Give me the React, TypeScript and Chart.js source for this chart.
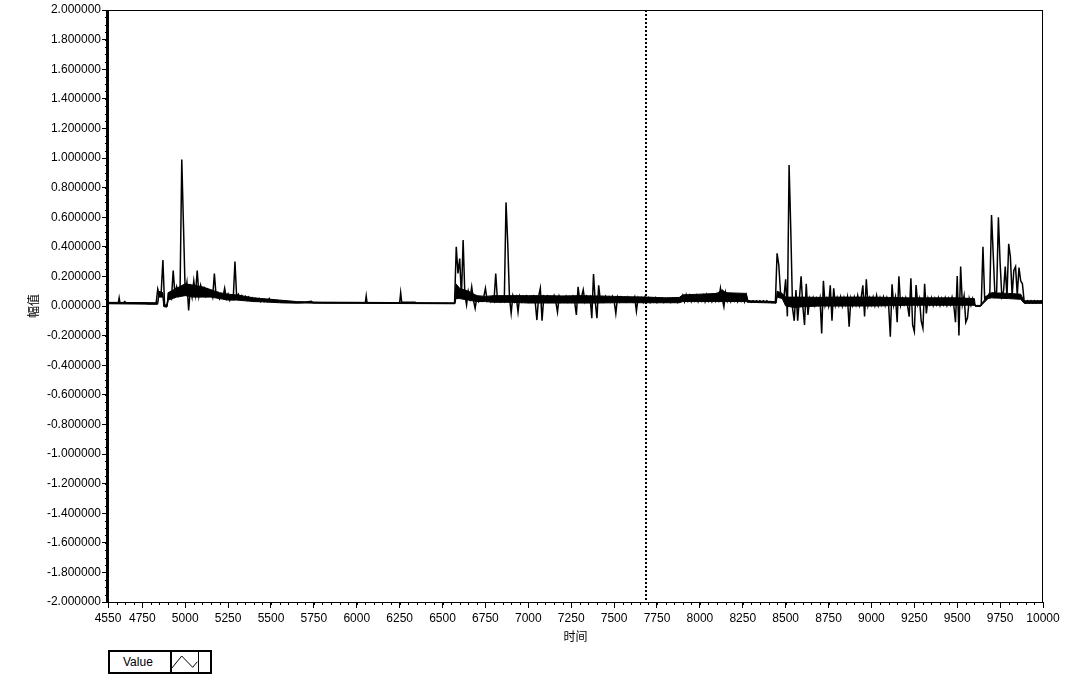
import React, { useEffect, useRef } from "react";
import { Chart, registerables } from "chart.js";

Chart.register(...registerables);

// ---- tick labels ----
const xTickValues = [4550, 4750, 5000, 5250, 5500, 5750, 6000, 6250, 6500, 6750, 7000, 7250, 7500, 7750, 8000, 8250, 8500, 8750, 9000, 9250, 9500, 9750, 10000];
const yTickValues = [-2, -1.8, -1.6, -1.4, -1.2, -1, -0.8, -0.6, -0.4, -0.2, 0, 0.2, 0.4, 0.6, 0.8, 1, 1.2, 1.4, 1.6, 1.8, 2];
const xTitle = "时间";
const yTitle = "幅值";
const seriesName = "Value";
const cursorX = 7686;

// ---- series values (time, amplitude) ----
const quietA: [number, number][] = [
  [4550, 0.02], [4600, 0.02], [4610, 0.02], [4615, 0.055], [4620, 0.02], [4640, 0.022],
  [4648, 0.03], [4655, 0.02], [4770, 0.02], [4780, 0.015], [4830, 0.015],
];
const SAMPLE_STEP = 10;
const noisy1Start = 4840;
const noisy1: number[] = [
  0.115, 0.07, 0.09, 0.31, 0.0, -0.005, 0.04, 0.07, 0.05, 0.24,
  0.08, 0.13, 0.07, 0.10, 0.99, 0.54, 0.09, 0.16, -0.03, 0.12,
  0.06, 0.17, 0.08, 0.24, 0.07, 0.14, 0.09, 0.12, 0.07, 0.11,
  0.08, 0.10, 0.06, 0.22, 0.07, 0.09, 0.05, 0.08, 0.06, 0.12,
  0.05, 0.08, 0.04, 0.07, 0.05, 0.30, 0.06, 0.08, 0.05, 0.07,
  0.045, 0.065, 0.04, 0.06, 0.04, 0.055, 0.035, 0.05, 0.035, 0.05,
  0.03, 0.045, 0.03, 0.04, 0.03, 0.05, 0.03, 0.04, 0.028, 0.035,
  0.028, 0.035, 0.025, 0.032, 0.025, 0.03, 0.025,
];
const quietB: [number, number][] = [
  [5610, 0.025], [5650, 0.022], [5700, 0.025], [5735, 0.032], [5745, 0.022], [6050, 0.022],
  [6055, 0.068], [6060, 0.022], [6250, 0.022], [6256, 0.09], [6262, 0.025], [6340, 0.025],
  [6350, 0.018], [6560, 0.018],
];
const noisy2Start = 6570;
const noisy2: number[] = [
  0.018, 0.40, 0.22, 0.32, 0.06, 0.445, 0.08, 0.007, 0.10, 0.05,
  0.13, 0.04, -0.015, 0.06, 0.03, 0.055, 0.035, 0.06, 0.12, 0.035,
  0.055, 0.03, 0.06, 0.035, 0.22, 0.04, 0.06, 0.03, 0.055, 0.035,
  0.70, 0.425, 0.06, -0.048, 0.07, 0.03, 0.06, -0.04, 0.065, 0.03,
  0.06, 0.035, 0.065, 0.03, 0.06, 0.035, 0.065, 0.03, -0.095, 0.065,
  0.12, -0.10, 0.06, 0.035, 0.065, 0.03, 0.06, 0.035, 0.07, 0.03,
  -0.04, 0.065, 0.03, 0.06, 0.035, 0.065, 0.03, 0.06, 0.035, 0.065,
  0.03, -0.06, 0.13, 0.035, 0.06, 0.11, 0.03, 0.065, 0.035, 0.06,
  -0.083, 0.216, 0.03, -0.083, 0.14, 0.035, 0.06, 0.03, 0.065, 0.035,
  0.06, 0.03, 0.065, 0.035, -0.05, 0.06, 0.03, 0.06, 0.035, 0.055,
  0.03, 0.06, 0.035, 0.055, 0.03, 0.06, -0.035, 0.055, 0.03, 0.055,
  0.025, 0.06, 0.03, 0.055, 0.025, 0.05, 0.03, 0.055, 0.025, 0.05,
  0.03, 0.05, 0.025, 0.05, 0.03, 0.05, 0.025, 0.05, 0.03, 0.045,
  0.025, 0.05, 0.035, 0.07, 0.03, 0.075, 0.035, 0.07, 0.03, 0.065,
  0.035, 0.07, 0.03, 0.065, 0.035, 0.07, 0.03, 0.075, 0.035, 0.065,
  0.03, 0.07, 0.035, 0.08, 0.04, 0.12, 0.05, -0.005, 0.09, 0.035,
  0.07, 0.03, 0.065, 0.035, 0.07, 0.03, 0.065, 0.035, 0.07, 0.03,
  0.075, 0.03, 0.035, 0.025, 0.035, 0.025, 0.035, 0.025, 0.035, 0.025,
  0.035, 0.025, 0.035, 0.025, 0.03, 0.022, 0.025, 0.022,
];
const noisy3Start = 8450;
const noisy3: number[] = [
  0.356, 0.277, 0.09, 0.07, 0.06, 0.18, -0.07, 0.953, 0.51, -0.015,
  -0.10, 0.108, -0.10, 0.05, 0.20, 0.0, -0.128, 0.15, -0.06, 0.05,
  0.01, 0.055, 0.005, 0.05, 0.01, 0.055, -0.185, 0.17, 0.005, 0.05,
  0.0, 0.14, -0.1, 0.12, 0.005, 0.055, 0.005, 0.06, 0.0, 0.055,
  0.01, 0.06, -0.14, 0.05, 0.005, 0.06, 0.01, 0.07, 0.005, 0.055,
  0.14, -0.07, 0.18, 0.005, 0.055, 0.01, 0.06, 0.005, 0.07, 0.005,
  0.055, 0.01, 0.06, 0.005, 0.055, 0.01, -0.207, 0.147, 0.005, 0.06,
  -0.11, 0.20, 0.005, 0.05, 0.01, 0.055, 0.005, -0.072, 0.187, -0.128,
  -0.173, 0.142, 0.01, 0.05, -0.1, -0.15, 0.15, -0.05, 0.05, 0.01,
  0.055, 0.005, 0.05, 0.01, 0.055, 0.005, 0.05, 0.01, 0.055, 0.005,
  0.05, 0.01, 0.06, 0.005, -0.11, 0.203, -0.2, 0.266, 0.01, 0.07,
  -0.11, -0.08, 0.05, 0.005, 0.05, 0.01, 0.0, 0.0, 0.0, 0.005,
  0.40, 0.05, 0.065, 0.07, 0.09, 0.615, 0.345, 0.07, 0.10, 0.60,
  0.29, 0.065, 0.10, 0.266, 0.06, 0.42, 0.33, 0.07, 0.24, 0.266,
  0.075, 0.26, 0.17, 0.15, 0.035, 0.02, 0.035, 0.02, 0.035, 0.02,
  0.035, 0.02, 0.035, 0.022, 0.035, 0.025,
];

// ---- dense-noise envelope (time, low, high) as the plot's min/max band ----
const envelope: [number, number, number][] = [
  [4550, 0.015, 0.025], [4840, 0.012, 0.022], [4845, 0.06, 0.10], [4870, 0.06, 0.09],
  [4875, -0.005, 0.005], [4895, -0.005, 0.01], [4900, 0.04, 0.09], [4950, 0.06, 0.12],
  [5000, 0.07, 0.15], [5050, 0.06, 0.14], [5100, 0.06, 0.13], [5150, 0.06, 0.11],
  [5200, 0.05, 0.09], [5250, 0.04, 0.08], [5300, 0.04, 0.075], [5350, 0.035, 0.065],
  [5400, 0.03, 0.055], [5450, 0.028, 0.05], [5500, 0.025, 0.045], [5550, 0.022, 0.04],
  [5600, 0.02, 0.035], [5650, 0.02, 0.03], [5700, 0.02, 0.028], [5800, 0.019, 0.026],
  [6000, 0.018, 0.025], [6560, 0.015, 0.021], [6572, 0.015, 0.021], [6578, 0.05, 0.15],
  [6600, 0.05, 0.12], [6650, 0.04, 0.10], [6700, 0.03, 0.07], [6750, 0.03, 0.065],
  [6800, 0.025, 0.07], [6900, 0.025, 0.07], [7000, 0.02, 0.07], [7100, 0.02, 0.07],
  [7200, 0.02, 0.068], [7300, 0.02, 0.07], [7400, 0.02, 0.068], [7500, 0.022, 0.065],
  [7600, 0.022, 0.062], [7700, 0.022, 0.06], [7800, 0.022, 0.055], [7880, 0.022, 0.058],
  [7900, 0.03, 0.075], [8000, 0.03, 0.08], [8100, 0.03, 0.085], [8130, 0.03, 0.11],
  [8150, 0.03, 0.09], [8270, 0.03, 0.085], [8280, 0.025, 0.035], [8445, 0.02, 0.03],
  [8450, 0.06, 0.10], [8480, 0.05, 0.085], [8500, 0.0, 0.06], [8550, -0.01, 0.06],
  [8600, -0.005, 0.06], [8700, 0.0, 0.058], [8800, 0.0, 0.06], [8900, 0.0, 0.06],
  [9000, 0.0, 0.06], [9100, 0.002, 0.058], [9200, 0.005, 0.055], [9300, 0.005, 0.055],
  [9400, 0.005, 0.055], [9500, 0.005, 0.055], [9600, 0.005, 0.05], [9605, -0.002, 0.004],
  [9635, -0.002, 0.004], [9680, 0.05, 0.075], [9700, 0.055, 0.09], [9800, 0.05, 0.085],
  [9870, 0.045, 0.08], [9890, 0.018, 0.035], [10000, 0.018, 0.035],
];

function sampled(start: number, values: number[]) {
  return values.map((v, i) => ({ x: start + i * SAMPLE_STEP, y: v }));
}
function pairs(list: [number, number][]) {
  return list.map(([x, y]) => ({ x, y }));
}
function buildPoints() {
  return [
    ...pairs(quietA),
    ...sampled(noisy1Start, noisy1),
    ...pairs(quietB),
    ...sampled(noisy2Start, noisy2),
    ...sampled(noisy3Start, noisy3),
  ];
}

const FONT = "'Liberation Sans', Arial, sans-serif";
const CJK = "'Noto Sans CJK SC', sans-serif";

export default function App() {
  const ref = useRef<HTMLCanvasElement>(null);

  useEffect(() => {
    if (!ref.current) return;
    const decor = {
      id: "decor",
      afterDraw(chart: any) {
        const { ctx, chartArea: a, scales } = chart;
        const x = scales.x;
        const y = scales.y;
        ctx.save();
        ctx.strokeStyle = "#000";
        ctx.lineWidth = 1;
        ctx.setLineDash([]);
        ctx.beginPath();
        for (let v = xTickValues[0]; v <= xTickValues[xTickValues.length - 1]; v += 50) {
          const px = Math.round(x.getPixelForValue(v)) + 0.5;
          ctx.moveTo(px, a.bottom);
          ctx.lineTo(px, a.bottom + 3);
        }
        for (let k = -40; k <= 40; k++) {
          const py = Math.round(y.getPixelForValue(k * 0.05)) + 0.5;
          ctx.moveTo(a.left - 3, py);
          ctx.lineTo(a.left, py);
        }
        ctx.stroke();
        ctx.strokeRect(Math.round(a.left) + 0.5, Math.round(a.top) + 0.5, Math.round(a.right - a.left) - 1, Math.round(a.bottom - a.top));
        ctx.beginPath();
        ctx.lineWidth = 2;
        ctx.moveTo(a.left - 1, a.top);
        ctx.lineTo(a.left - 1, a.bottom + 1);
        ctx.stroke();
        const cx = Math.round(x.getPixelForValue(cursorX));
        ctx.setLineDash([2, 2]);
        ctx.lineWidth = 2;
        ctx.beginPath();
        ctx.moveTo(cx, a.top);
        ctx.lineTo(cx, a.bottom);
        ctx.stroke();
        ctx.restore();
      },
    };

    const chart = new Chart(ref.current, {
      type: "scatter",
      data: {
        datasets: [
          {
            label: seriesName,
            data: buildPoints(),
            showLine: true,
            borderColor: "#000",
            backgroundColor: "#000",
            borderWidth: 1.5,
            pointRadius: 0,
            tension: 0,
          },
          {
            label: "envelope-high",
            data: envelope.map(([x, , hi]) => ({ x, y: hi })),
            showLine: true,
            borderColor: "#000",
            backgroundColor: "#000",
            borderWidth: 1,
            pointRadius: 0,
            fill: "+1",
          },
          {
            label: "envelope-low",
            data: envelope.map(([x, lo]) => ({ x, y: lo })),
            showLine: true,
            borderColor: "#000",
            backgroundColor: "#000",
            borderWidth: 1,
            pointRadius: 0,
          },
        ],
      },
      options: {
        animation: false,
        responsive: false,
        maintainAspectRatio: false,
        devicePixelRatio: 1,
        layout: { padding: { left: 0, right: 24, top: 10, bottom: 0 } },
        plugins: { legend: { display: false }, tooltip: { enabled: false } },
        events: [],
        scales: {
          x: {
            type: "linear",
            min: 4550,
            max: 10000,
            afterBuildTicks: (s: any) => {
              s.ticks = xTickValues.map((v) => ({ value: v }));
            },
            afterFit: (s: any) => {
              s.height = 73;
            },
            ticks: {
              autoSkip: false,
              maxRotation: 0,
              color: "#000",
              padding: 3,
              font: { family: FONT, size: 12 },
              callback: (v: any) => String(v),
            },
            grid: { drawOnChartArea: false, drawTicks: true, tickLength: 6, color: "#000" },
            border: { display: true, color: "#000", width: 1 },
            title: {
              display: true,
              text: xTitle,
              color: "#000",
              font: { family: CJK, size: 12 },
              padding: { top: 0, bottom: 31 },
            },
          },
          y: {
            type: "linear",
            min: -2,
            max: 2,
            afterBuildTicks: (s: any) => {
              s.ticks = yTickValues.map((v) => ({ value: v }));
            },
            afterFit: (s: any) => {
              s.width = 108;
            },
            ticks: {
              autoSkip: false,
              color: "#000",
              padding: 1,
              font: { family: FONT, size: 12 },
              callback: (v: any) => Number(v).toFixed(6),
            },
            grid: { drawOnChartArea: false, drawTicks: true, tickLength: 6, color: "#000" },
            border: { display: true, color: "#000", width: 1 },
            title: {
              display: true,
              text: yTitle,
              color: "#000",
              font: { family: CJK, size: 12 },
              padding: { top: 26, bottom: 0 },
            },
          },
        },
      },
      plugins: [decor],
    } as any);
    return () => chart.destroy();
  }, []);

  return (
    <div style={{ position: "absolute", left: 0, top: 0, width: 1067, height: 675, background: "#fff" }}>
      <canvas ref={ref} width={1067} height={675} style={{ display: "block", width: 1067, height: 675 }} />
      <svg width={120} height={40} style={{ position: "absolute", left: 100, top: 640 }}>
        <rect x={9} y={11} width={102} height={22} fill="#fff" stroke="#000" strokeWidth={2} />
        <text x={23} y={26} fontFamily={FONT} fontSize={12} fill="#000">
          {seriesName}
        </text>
        <line x1={71} y1={11} x2={71} y2={33} stroke="#000" strokeWidth={2} />
        <line x1={98.5} y1={11} x2={98.5} y2={33} stroke="#000" strokeWidth={1} />
        <polyline points="71.7,28.3 81.7,16 92.7,27.3 97.3,21.7" fill="none" stroke="#000" strokeWidth={1} />
      </svg>
    </div>
  );
}
